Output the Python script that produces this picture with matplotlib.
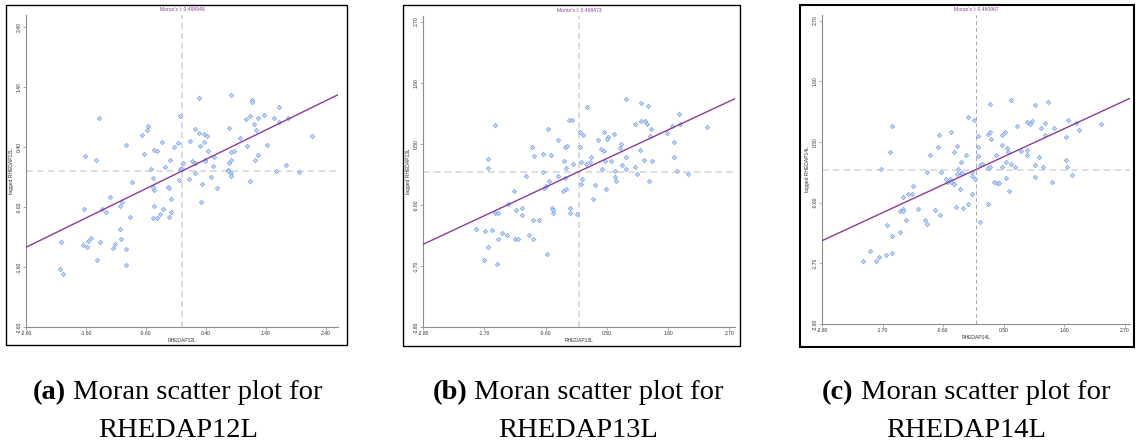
import numpy as np
import matplotlib as mpl
mpl.use('Agg')
import matplotlib.pyplot as plt

# standardized values (x) and their spatial lags (y) for each variable
x12 = [-1.39, -1.61, -1.43, -0.93, -0.67, -0.59, -0.56, -0.63, -0.47, -0.42,
       -0.34, -0.52, -0.49, -0.29, -0.20, -0.13, -0.07, -0.04, -0.04, 0.00,
       0.02, -0.05, -0.84, -1.20, -1.00, -1.03, -1.34, -1.26, -1.64, -0.86,
       -0.47, -0.46, -0.48, -0.23, -0.22, -0.18, -0.31, -0.37, -0.42, -0.48,
       -0.18, -0.21, -1.03, -1.01, -1.11, -1.15, -0.93, -0.94, -1.41, -1.36,
       -1.52, -1.57, -1.65, -1.58, -2.02, -2.04, -1.99, 0.12, 0.16, 0.21,
       0.22, 0.34, 0.32, 0.13, 0.22, 0.29, 0.28, 0.36, 0.42, 0.36,
       0.30, 0.44, 0.39, 0.38, 0.51, 0.48, 0.58, 0.53, 0.76, 0.77,
       0.79, 0.81, 0.81, 0.87, 0.96, 0.81, 0.82, 0.78, 0.81, 1.16,
       1.17, 1.06, 1.13, 1.20, 1.23, 1.26, 1.09, 1.26, 1.21, 1.13,
       1.37, 1.53, 1.62, 1.61, 1.76, 1.41, 1.73, 1.57, 1.95, 2.17]
y12 = [0.88, 0.25, 0.18, 0.43, 0.60, 0.68, 0.75, 0.28, 0.35, 0.34,
       0.49, 0.04, -0.11, 0.07, 0.18, 0.40, 0.47, 0.91, 0.04, 0.04,
       0.14, -0.15, -0.19, -0.44, -0.52, -0.58, -0.63, -0.69, -0.63, -0.76,
       -0.59, -0.31, -0.26, -0.27, -0.29, -0.46, -0.64, -0.71, -0.78, -0.79,
       -0.68, -0.76, -0.96, -1.13, -1.22, -1.29, -1.30, -1.57, -1.49, -1.18,
       -1.12, -1.16, -1.24, -1.27, -1.18, -1.63, -1.72, -0.13, 0.16, -0.03,
       0.13, -0.21, -0.52, 0.50, 0.70, 0.63, 1.22, 0.62, 0.59, 0.49,
       0.42, 0.34, 0.19, 0.17, 0.08, -0.10, -0.28, 0.23, 0.01, 0.00,
       0.13, 0.18, 0.31, 0.33, 0.55, -0.04, -0.09, 0.72, 1.27, 1.19,
       1.15, 0.87, 0.92, 0.78, 0.68, 0.89, 0.42, 0.27, 0.19, -0.17,
       0.93, 0.88, 1.06, 0.81, 0.88, 0.44, 0.10, 0.00, -0.01, 0.59]

x13 = [-1.51, -1.63, -1.63, -1.85, -1.69, -1.57, -1.64, -1.70, -1.47, -1.45,
       -1.38, -1.29, -1.14, -1.10, -0.90, -0.82, -1.51, -1.45, -1.28, -1.13,
       -1.02, -1.02, -1.16, -0.95, -0.82, -0.72, -0.58, -0.84, -0.80, -0.64,
       -0.65, -0.62, -0.60, -0.53, -0.50, -0.56, -0.38, -0.38, -0.49, -0.47,
       -0.47, -0.27, -0.23, -0.25, -0.22, -0.29, -0.23, -0.17, -0.17, -0.04,
       -0.18, -0.12, -0.11, 0.02, 0.07, 0.02, 0.04, 0.05, 0.04, 0.12,
       0.15, 0.19, 0.22, 0.29, 0.26, 0.34, 0.40, 0.41, 0.44, 0.44,
       0.47, 0.48, 0.52, 0.50, 0.57, 0.62, 0.65, 0.64, 0.66, 0.73,
       0.76, 0.78, 0.85, 0.84, 0.85, 1.00, 1.01, 1.04, 1.10, 1.12,
       1.12, 1.16, 1.19, 1.22, 1.24, 1.25, 1.28, 1.30, 1.31, 1.58,
       1.67, 1.70, 1.71, 1.75, 1.80, 1.81, 1.95, 2.29, -0.25]
y13 = [0.83, 0.22, 0.07, -1.03, -1.08, -1.06, -1.36, -1.60, -1.67, -1.21,
       -1.10, -1.15, -1.21, -1.22, -1.15, -1.21, -0.74, -0.75, -0.59, -0.69,
       -0.65, -0.78, -0.35, -0.08, -0.88, -0.88, -1.48, 0.45, 0.28, 0.31,
       0.00, -0.29, -0.27, -0.17, 0.30, 0.76, 0.57, -0.09, -0.65, -0.70,
       -0.75, 0.19, 0.07, 0.45, 0.46, -0.36, -0.32, -0.66, -0.74, -0.76,
       0.92, 0.92, 0.14, 0.71, 0.65, 0.45, 0.18, -0.13, -0.22, 0.13,
       1.16, 0.17, 0.27, -0.25, -0.49, 0.57, 0.41, 0.05, 0.71, 0.37,
       0.19, -0.32, 0.62, 0.59, 0.19, 0.68, 0.01, -0.10, -0.17, 0.43,
       0.49, 0.12, 0.27, 0.05, 1.31, 0.08, 0.86, -0.04, 0.38, 0.91,
       1.24, 0.20, 0.91, 0.86, 1.18, -0.18, 0.64, 0.76, 0.19, 0.69,
       0.82, 0.26, 0.53, 0.01, 1.03, 0.85, -0.04, 0.81, -0.11]

x14 = [-1.52, -1.56, -1.72, -2.05, -1.92, -1.81, -1.76, -1.64, -1.52, -1.52,
       -1.61, -1.39, -1.39, -1.32, -1.32, -1.27, -1.32, -1.23, -1.16, -1.14,
       -1.05, -0.92, -0.90, -0.89, -0.84, -0.75, -0.65, -0.70, -0.67, -0.64,
       -0.55, -0.52, -0.48, -0.45, -0.45, -0.40, -0.40, -0.37, -0.35, -0.34,
       -0.32, -0.30, -0.28, -0.28, -0.26, -0.24, -0.18, -0.15, -0.15, -0.08,
       -0.07, -0.07, -0.04, -0.02, 0.04, 0.04, 0.03, 0.07, 0.10, 0.08,
       0.21, 0.21, 0.22, 0.25, 0.25, 0.25, 0.28, 0.33, 0.36, 0.39,
       0.41, 0.47, 0.47, 0.48, 0.53, 0.54, 0.55, 0.56, 0.59, 0.60,
       0.64, 0.64, 0.71, 0.74, 0.81, 0.92, 0.93, 0.93, 0.98, 1.01,
       1.07, 1.08, 1.08, 1.15, 1.18, 1.21, 1.25, 1.26, 1.31, 1.39,
       1.41, 1.63, 1.64, 1.65, 1.68, 1.75, 1.82, 1.88, 2.28]
y14 = [0.78, 0.32, 0.01, -1.65, -1.48, -1.65, -1.59, -1.55, -1.52, -1.21,
       -1.00, -1.14, -0.76, -0.72, -0.75, -0.91, -0.50, -0.44, -0.44, -0.29,
       -0.72, -0.91, -0.99, -0.05, 0.27, -0.73, -0.82, 0.41, 0.62, -0.05,
       -0.17, -0.22, -0.17, 0.68, -0.22, 0.32, -0.27, -0.68, 0.42, -0.08,
       0.01, -0.35, 0.13, -0.07, -0.07, -0.70, 0.27, -0.62, 0.95, -0.12,
       -0.44, -0.05, 0.90, -0.18, 0.61, 0.41, 0.24, 0.08, 0.10, -0.95,
       0.65, -0.62, 0.02, 0.68, 1.19, 0.05, 0.56, -0.22, 0.27, -0.24,
       -0.25, 0.62, 0.44, 0.04, 0.68, 0.13, -0.15, 0.39, 0.32, -0.39,
       1.26, 0.10, 0.05, 0.79, 0.33, 0.86, 0.36, 0.27, 0.82, 0.88,
       0.09, 1.16, -0.13, 0.22, 0.76, 0.04, 0.84, 0.62, 1.23, -0.22,
       0.76, 0.18, 0.58, 0.05, 0.90, -0.10, 0.84, 0.72, 0.82]

morans_i = [0.488948, 0.468473, 0.460967]
names = ['RHEDAP12L', 'RHEDAP13L', 'RHEDAP14L']
tags = ['(a)', '(b)', '(c)']
ticks12 = [-2.60, -1.60, -0.60, 0.40, 1.40, 2.40]
ticks1314 = [-2.80, -1.70, -0.60, 0.50, 1.60, 2.70]

W, H = 1136, 441
fig = plt.figure(figsize=(W / 100, H / 100), dpi=100)


def px_rect(left, top, right, bottom):
    return [left / W, (H - bottom) / H, (right - left) / W, (bottom - top) / H]


panels = [
    dict(x=x12, y=y12, lim=2.6, ticks=ticks12,
         ax=(26, 15, 338, 327), frame=(6, 5, 347, 345), flw=1.0,
         vcol='#d2d2d2', vdash=(4, 2.5), vlw=1.1),
    dict(x=x13, y=y13, lim=2.8, ticks=ticks1314,
         ax=(423, 16, 735, 327), frame=(403, 5, 740, 346), flw=1.0,
         vcol='#d2d2d2', vdash=(4, 2.5), vlw=1.1),
    dict(x=x14, y=y14, lim=2.8, ticks=ticks1314,
         ax=(822, 15, 1130, 324), frame=(800, 5, 1134, 347), flw=1.5,
         vcol='#a8a8a8', vdash=(4, 3), vlw=0.7),
]

small = dict(family='Liberation Sans', fontsize=3.6)

for i, p in enumerate(panels):
    # black border round each panel
    fl, ft, fr, fb = p['frame']
    fig.patches.append(plt.Rectangle((fl / W, (H - fb) / H), (fr - fl) / W, (fb - ft) / H,
                                     transform=fig.transFigure, fill=False,
                                     edgecolor='black', linewidth=p['flw']))

    ax = fig.add_axes(px_rect(*p['ax']))
    lim = p['lim']
    ax.set_xlim(-lim, lim)
    ax.set_ylim(-lim, lim)

    ax.axvline(0, color=p['vcol'], linewidth=p['vlw'], dashes=p['vdash'], zorder=1)
    ax.axhline(0, color='#d8d8d8', linewidth=1.2, dashes=(4, 2.5), zorder=1)

    ax.scatter(p['x'], p['y'], s=5, marker='D', facecolor='#c3d6f9',
               edgecolor='#7ea6f0', linewidth=0.5, zorder=3)

    xs = np.array([-lim, lim])
    ax.plot(xs, morans_i[i] * xs, color='#8a3c98', linewidth=1.0, zorder=4)

    for side in ['top', 'right']:
        ax.spines[side].set_visible(False)
    for side in ['left', 'bottom']:
        ax.spines[side].set_color('#8c8c8c')
        ax.spines[side].set_linewidth(0.8)

    ax.set_xticks(p['ticks'])
    ax.set_yticks(p['ticks'])
    ax.set_xticklabels(['%.2f' % t for t in p['ticks']], **small)
    ax.set_yticklabels(['%.2f' % t for t in p['ticks']], rotation=90, va='center', **small)
    ax.tick_params(length=2, width=0.5, color='#8c8c8c', pad=1.2, labelcolor='#333333')

    ax.set_xlabel(names[i], labelpad=1, color='#333333', **small)
    ax.set_ylabel('lagged ' + names[i], labelpad=2, color='#333333', **small)
    ax.set_title("Moran's I: %.6f" % morans_i[i], color='#8e3b9e', pad=3, **small)

# sub-figure captions: bold tag followed by regular text, then the variable name
centers = [178, 578, 966]
cap = dict(family='Liberation Serif', fontsize=20.5, va='baseline')
renderer = fig.canvas.get_renderer()
for i in range(3):
    tb = fig.text(0, (H - 399) / H, tags[i], fontweight='bold', **cap)
    tr = fig.text(0, (H - 399) / H, ' Moran scatter plot for', **cap)
    wb = tb.get_window_extent(renderer).width
    wr = tr.get_window_extent(renderer).width
    x0 = centers[i] - (wb + wr) / 2
    tb.set_x(x0 / W)
    tr.set_x((x0 + wb) / W)
    fig.text(centers[i] / W, (H - 437) / H, names[i], ha='center', **cap)

fig.savefig('out.png', dpi=100)
